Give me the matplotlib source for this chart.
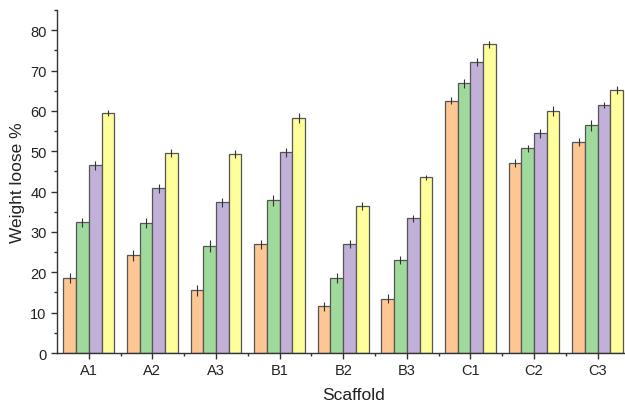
import matplotlib.pyplot as plt
from matplotlib.ticker import MultipleLocator, FixedLocator
import numpy as np

plt.rcParams['font.family'] = ['Liberation Sans', 'DejaVu Sans']

scaffolds = ['A1', 'A2', 'A3', 'B1', 'B2', 'B3', 'C1', 'C2', 'C3']
s1 = [18.6, 24.2, 15.5, 26.9, 11.6, 13.5, 62.5, 47.1, 52.2]
s2 = [32.4, 32.2, 26.5, 37.8, 18.6, 23.1, 66.8, 50.7, 56.4]
s3 = [46.5, 40.8, 37.4, 49.7, 26.9, 33.4, 72.2, 54.4, 61.5]
s4 = [59.5, 49.6, 49.3, 58.3, 36.4, 43.5, 76.5, 59.9, 65.2]
e1 = [1.2, 1.4, 1.3, 1.1, 1.1, 1.1, 0.9, 1.0, 1.0]
e2 = [1.1, 1.2, 1.4, 1.4, 1.2, 1.0, 1.1, 0.9, 1.3]
e3 = [1.2, 1.1, 1.1, 1.1, 1.0, 0.9, 1.0, 1.2, 0.8]
e4 = [0.8, 1.0, 1.0, 1.2, 1.0, 0.7, 0.9, 1.2, 1.0]

colors = ['#FDC693', '#9FD99C', '#C1B0D7', '#FEFE9A']

fig = plt.figure(figsize=(6.25, 4.06), dpi=100)
ax = fig.add_axes([0.0912, 0.128, 0.95, 0.845])

x = np.arange(1, len(scaffolds) + 1)
w = 0.2
for i, (vals, errs) in enumerate(zip([s1, s2, s3, s4], [e1, e2, e3, e4])):
    ax.bar(x + (i - 1.5) * w, vals, width=w, color=colors[i],
           edgecolor='#555555', linewidth=0.9, zorder=2)
    ax.errorbar(x + (i - 1.5) * w, vals, yerr=errs, fmt='none',
                ecolor='#333333', elinewidth=0.8, capsize=0, zorder=3)

ax.set_xlim(0.5, 0.5 + 0.95 * 6.25 * 100 / 63.6)
ax.set_ylim(0, 85)
ax.set_xticks(x)
ax.set_xticklabels(scaffolds)
ax.xaxis.set_minor_locator(FixedLocator(np.arange(1.5, 10, 1)))
ax.yaxis.set_major_locator(MultipleLocator(10))
ax.yaxis.set_minor_locator(MultipleLocator(5))

for side in ['top', 'right']:
    ax.spines[side].set_visible(False)
for side in ['left', 'bottom']:
    ax.spines[side].set_color('#333333')
    ax.spines[side].set_linewidth(1.0)

ax.tick_params(axis='both', which='major', direction='out', length=4,
               width=1, colors='#333333', labelsize=10.5, labelcolor='#222222')
ax.tick_params(axis='both', which='minor', direction='out', length=2.5,
               width=1, colors='#333333')

ax.set_xlabel('Scaffold', fontsize=12.5, color='#222222', labelpad=7)
ax.set_ylabel('Weight loose %', fontsize=12.5, color='#222222', labelpad=4)

fig.savefig('out.png', dpi=100)
